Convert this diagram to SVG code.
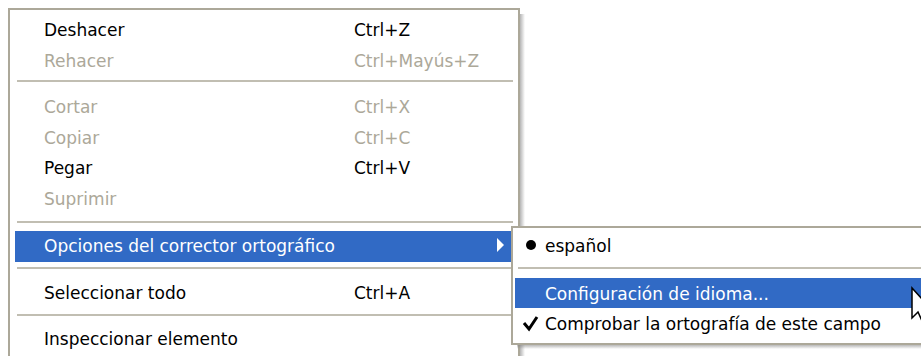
<svg xmlns="http://www.w3.org/2000/svg" width="921" height="356" viewBox="0 0 921 356">
<defs>
<style>
text{font-family:"DejaVu Sans","Liberation Sans",sans-serif;font-size:17px;fill:#000}
.dis{fill:#ACA899}
.hl{fill:#fff}
.sep1{stroke:#ACA899;stroke-width:1.5}
.sep2{stroke:#fff;stroke-width:1}
.border{fill:#fff;stroke:#ACA899;stroke-width:2}
</style>
<linearGradient id="shR" x1="0" x2="1" y1="0" y2="0">
<stop offset="0" stop-color="#808080" stop-opacity="0.7"/>
<stop offset="1" stop-color="#808080" stop-opacity="0"/>
</linearGradient>
<linearGradient id="shB" x1="0" x2="0" y1="0" y2="1">
<stop offset="0" stop-color="#808080" stop-opacity="0.7"/>
<stop offset="1" stop-color="#808080" stop-opacity="0"/>
</linearGradient>
</defs>
<rect width="921" height="356" fill="#fff"/>

<g id="main-menu">
<rect x="519" y="14" width="6" height="342" fill="url(#shR)"/>
<rect x="9" y="9" width="510" height="360" class="border"/>
<text x="44" y="36">Deshacer</text>
<text x="354" y="36">Ctrl+Z</text>
<text x="44" y="67" class="dis">Rehacer</text>
<text x="354" y="67" class="dis">Ctrl+Mayús+Z</text>
<line x1="17" y1="81" x2="513" y2="81" class="sep1"/>
<text x="44" y="113" class="dis">Cortar</text>
<text x="354" y="113" class="dis">Ctrl+X</text>
<text x="44" y="144" class="dis">Copiar</text>
<text x="354" y="144" class="dis">Ctrl+C</text>
<text x="44" y="174">Pegar</text>
<text x="354" y="174">Ctrl+V</text>
<text x="44" y="205" class="dis">Suprimir</text>
<line x1="17" y1="222" x2="513" y2="222" class="sep1"/>
<rect x="15" y="231" width="496" height="31" fill="#316AC5"/>
<text x="44" y="252" class="hl">Opciones del corrector ortográfico</text>
<polygon points="497,238 497,252 504,245" fill="#fff"/>
<line x1="17" y1="268" x2="513" y2="268" class="sep1"/>
<text x="44" y="299">Seleccionar todo</text>
<text x="354" y="299">Ctrl+A</text>
<line x1="17" y1="315" x2="513" y2="315" class="sep1"/>
<text x="44" y="345">Inspeccionar elemento</text>
</g>

<g id="submenu">
<rect x="517" y="344" width="410" height="5" fill="url(#shB)"/>
<rect x="512" y="227" width="420" height="117" class="border"/>
<circle cx="531" cy="245" r="5" fill="#000"/>
<text x="545" y="252">español</text>
<line x1="518" y1="268" x2="921" y2="268" class="sep1"/>
<rect x="515" y="278" width="406" height="30" fill="#316AC5"/>
<text x="545" y="300" class="hl">Configuración de idioma...</text>
<polyline points="524,323 529,329 537,317" fill="none" stroke="#000" stroke-width="3"/>
<text x="545" y="330">Comprobar la ortografía de este campo</text>
</g>

<g id="cursor">
<polygon points="912,288 912,318 918,312 923,323 928,321 923,310 932,310" fill="#fff" stroke="#000" stroke-width="1.5"/>
</g>
</svg>
